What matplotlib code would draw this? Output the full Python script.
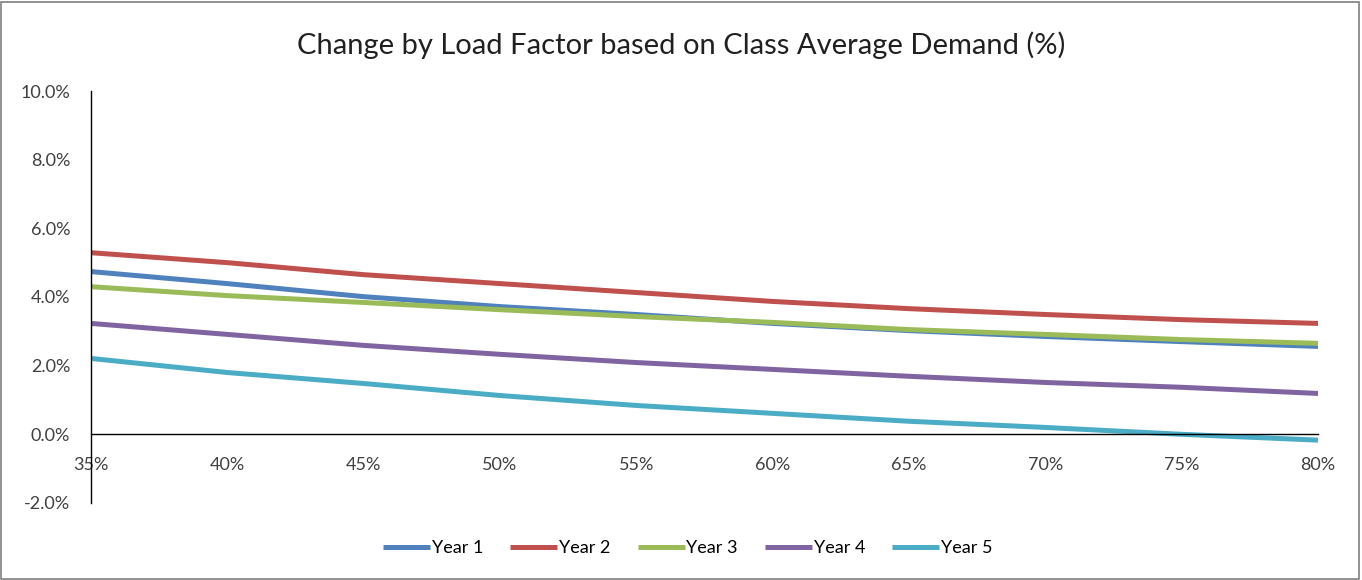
import matplotlib
matplotlib.use('Agg')
import matplotlib.pyplot as plt
from matplotlib.ticker import FuncFormatter
from matplotlib.patches import Rectangle

plt.rcParams['font.family'] = ['Lato', 'DejaVu Sans']

# Data (load factor vs. % change)
load_factor = [0.35, 0.40, 0.45, 0.50, 0.55, 0.60, 0.65, 0.70, 0.75, 0.80]
year1 = [4.74, 4.39, 4.01, 3.72, 3.49, 3.23, 3.02, 2.85, 2.70, 2.56]
year2 = [5.29, 5.00, 4.65, 4.39, 4.13, 3.87, 3.66, 3.49, 3.34, 3.23]
year3 = [4.30, 4.04, 3.84, 3.63, 3.43, 3.26, 3.05, 2.91, 2.76, 2.65]
year4 = [3.23, 2.91, 2.59, 2.33, 2.09, 1.89, 1.69, 1.51, 1.37, 1.19]
year5 = [2.21, 1.80, 1.48, 1.13, 0.84, 0.61, 0.38, 0.20, 0.00, -0.17]
series_names = ['Year 1', 'Year 2', 'Year 3', 'Year 4', 'Year 5']

colors = ['#4F81BD', '#C0504D', '#9BBB59', '#8064A2', '#4BACC6']

fig = plt.figure(figsize=(13.62, 5.8), dpi=100)
ax = fig.add_axes([0.0668, 0.1328, 0.901, 0.7103])

for vals, name, c in zip([year1, year2, year3, year4, year5], series_names, colors):
    ax.plot(load_factor, [v / 100 for v in vals], color=c, linewidth=3.6,
            label=name, solid_capstyle='butt')

ax.set_xlim(0.35, 0.80)
ax.set_ylim(-0.02, 0.10)
ax.set_xticks(load_factor)
ax.set_yticks([-0.02, 0.0, 0.02, 0.04, 0.06, 0.08, 0.10])
ax.xaxis.set_major_formatter(FuncFormatter(lambda v, p: f'{v*100:.0f}%'))
ax.yaxis.set_major_formatter(FuncFormatter(lambda v, p: f'{v*100:.1f}%'))

ax.spines['top'].set_visible(False)
ax.spines['right'].set_visible(False)
ax.spines['bottom'].set_position(('data', 0))
ax.spines['bottom'].set_color('black')
ax.spines['left'].set_color('black')
ax.spines['bottom'].set_linewidth(1.0)
ax.spines['left'].set_linewidth(1.0)
ax.tick_params(axis='x', length=0, pad=16, labelsize=13, labelcolor='#404040')
ax.tick_params(axis='y', length=0, pad=15, labelsize=13, labelcolor='#404040')

fig.text(0.5, 0.922, 'Change by Load Factor based on Class Average Demand (%)',
         ha='center', va='center', fontsize=21, color='#202020')

fig.legend(loc='center', bbox_to_anchor=(0.505, 0.055), ncol=5, frameon=False,
           fontsize=13, handlelength=2.6, handletextpad=0.1, columnspacing=1.5)

fig.add_artist(Rectangle((0.001, 0.002), 0.997, 0.995, transform=fig.transFigure,
                         fill=False, edgecolor='#7f7f7f', linewidth=1.2))

fig.savefig('out.png', dpi=100, facecolor='white')
